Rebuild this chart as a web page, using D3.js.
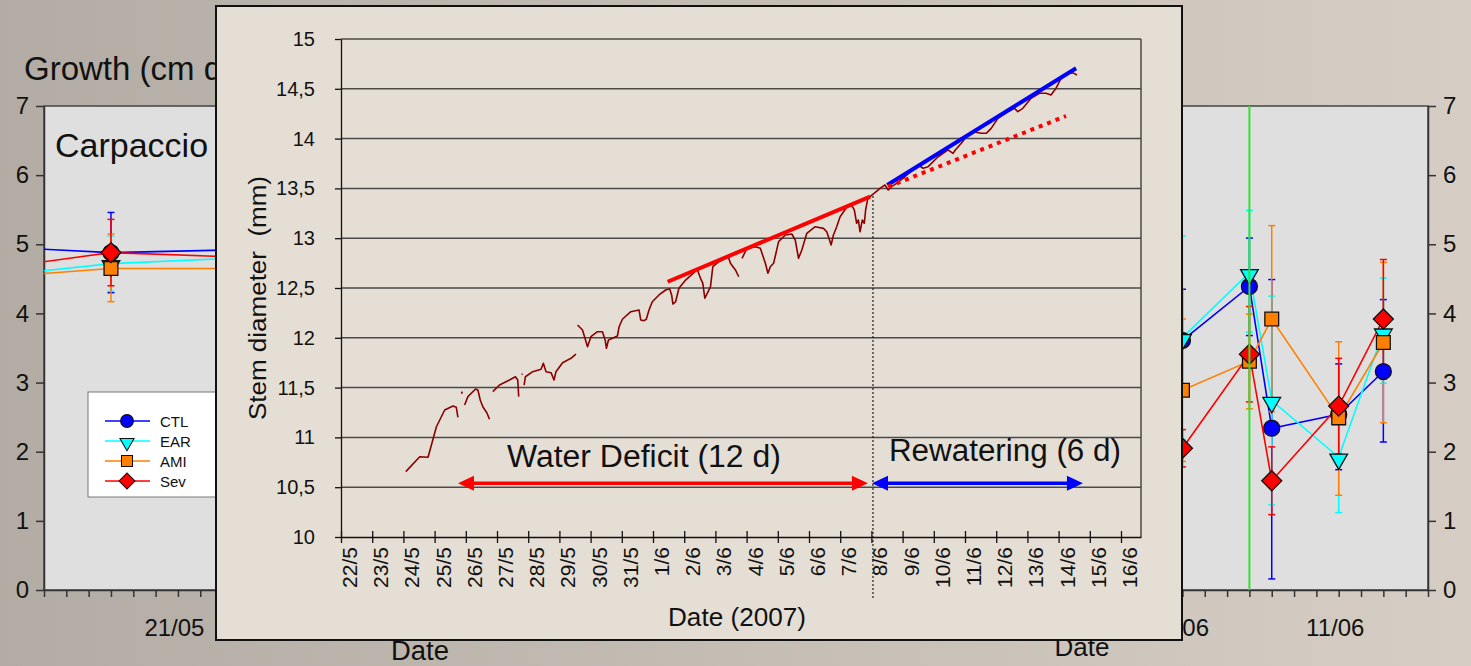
<!DOCTYPE html>
<html>
<head>
<meta charset="utf-8">
<script src="https://cdn.jsdelivr.net/npm/d3@7"></script>
<style>
  body { margin: 0; overflow: hidden; }
  text { font-family: "Liberation Sans", Arial, sans-serif; }
  .narrow { font-family: "Liberation Sans Narrow", "Arial Narrow", "Liberation Sans", sans-serif; }
</style>
</head>
<body>
<div id="chart"></div>
<script>

// ---- background chart: growth (cm/d), x = day index on the category axis ----
const growthIdx = [-2, 3, 10, 51, 54, 55, 58, 60];
const ctlVal = [4.96, 4.88, 4.93, 3.61, 4.39, 2.34, 2.54, 3.16];
const ctlHi = [null, 5.46, null, 4.35, 5.09, 4.49, 3.27, 4.20];
const ctlLo = [null, 4.30, null, 2.87, 3.68, 0.16, 1.74, 2.14];
const earVal = [4.55, 4.72, 4.82, 3.65, 4.59, 2.74, 1.92, 3.73];
const earHi = [null, 5.12, null, 5.12, 5.49, 4.25, 2.72, 4.51];
const earLo = [null, 4.32, null, 2.18, 3.73, 1.23, 1.12, 2.99];
const amiVal = [4.53, 4.65, 4.65, 2.89, 3.31, 3.92, 2.49, 3.58];
const amiHi = [null, 5.15, null, 3.92, 3.99, 5.27, 3.59, 4.74];
const amiLo = [null, 4.17, null, 1.86, 2.62, 2.58, 1.37, 2.42];
const sevVal = [4.66, 4.88, 4.80, 2.05, 3.41, 1.58, 2.66, 3.92];
const sevHi = [null, 5.36, null, 2.32, 4.10, 2.07, 3.35, 4.78];
const sevLo = [null, 4.40, null, 1.78, 2.72, 1.09, 1.97, 3.05];
const greenBar = { idx: 54, lo: 0, hi: 7 };
const growthTickLabels = { 6: "21/05", 51: "06/06", 58: "11/06" };

// ---- front chart: stem diameter (mm), x = days after 22/5 ----
const dateLabels = ["22/5", "23/5", "24/5", "25/5", "26/5", "27/5", "28/5", "29/5", "30/5", "31/5",
  "1/6", "2/6", "3/6", "4/6", "5/6", "6/6", "7/6", "8/6", "9/6", "10/6", "11/6", "12/6", "13/6", "14/6", "15/6", "16/6"];
const diamTicks = [10, 10.5, 11, 11.5, 12, 12.5, 13, 13.5, 14, 14.5, 15];

const stemDay = [
  2.077, 2.524, 2.789, 2.898, 3.058, 3.323, 3.588, 3.696, 3.748, null,
  3.862, 3.888, null,
  3.962, 4.067, 4.313, 4.387, 4.463, 4.546, 4.674, 4.760, null,
  4.866, 5.080, 5.399, 5.591, 5.665, 5.696, null,
  5.795, 5.815, null,
  5.869, 5.911, 6.144, 6.412, 6.486, 6.572, 6.732, 6.827, 6.891, 7.102, 7.371, 7.530, null,
  7.581, 7.741, 7.901, 8.010, 8.220, 8.380, 8.466, 8.508, 8.572, 8.700, 8.859, 8.914, 9.019, 9.288,
  9.553, 9.607, 9.712, 9.786, 9.872, 9.978, 10.192, 10.406, 10.534, 10.597, 10.639, 10.725, 10.831,
  11.045, 11.310, 11.415, 11.524, 11.597, 11.661, 11.767, 11.843, 11.917, 12.109, 12.323, 12.406,
  12.482, 12.642, 12.748, null,
  12.853, 13.013, 13.281, 13.441, 13.601, 13.684, 13.760, 13.866, 14.026, 14.240, 14.450, 14.559,
  14.665, 14.770, 14.930, 15.198, 15.463, 15.569, 15.709, 15.783, 15.888, 15.997, 16.208, 16.367,
  16.454, 16.527, 16.581, 16.636, 16.709, 16.773, 16.815, 16.879, 16.955, 17.115, 17.275, 17.435,
  17.540, 17.645, 17.805, 18.073, 18.498, 18.658, 18.818, 19.137, 19.457, 19.617, 19.690, 19.882,
  20.042, 20.256, 20.521, 20.681, 20.840, 21.054, 21.374, 21.588, 21.693, 21.853, 22.118, 22.386,
  22.597, 22.757, 22.917, 23.077, 23.291, 23.450, 23.588
];
const stemMM = [
  10.656, 10.806, 10.800, 10.924, 11.107, 11.275, 11.315, 11.302, 11.202, null,
  11.440, 11.460, null,
  11.325, 11.409, 11.486, 11.476, 11.376, 11.308, 11.248, 11.182, null,
  11.459, 11.526, 11.576, 11.609, 11.576, 11.409, null,
  11.630, 11.640, null,
  11.526, 11.609, 11.660, 11.684, 11.744, 11.660, 11.650, 11.576, 11.660, 11.750, 11.794, 11.837, null,
  12.129, 12.078, 11.911, 12.011, 12.061, 12.061, 11.978, 11.895, 11.978, 11.995, 12.018, 12.111, 12.186, 12.262,
  12.279, 12.179, 12.172, 12.186, 12.279, 12.362, 12.430, 12.480, 12.493, 12.430, 12.339, 12.362, 12.497,
  12.580, 12.654, 12.688, 12.597, 12.547, 12.397, 12.463, 12.513, 12.714, 12.764, 12.798, 12.821,
  12.748, 12.681, 12.613, null,
  12.798, 12.899, 12.915, 12.899, 12.748, 12.648, 12.714, 12.748, 12.965, 13.032, 13.042, 12.982,
  12.798, 12.882, 13.049, 13.115, 13.099, 13.065, 12.932, 13.032, 13.115, 13.216, 13.310, 13.333,
  13.283, 13.150, 13.183, 13.065, 13.183, 13.150, 13.283, 13.390, 13.417, 13.457, 13.501, 13.534,
  13.484, 13.517, 13.551, 13.617, 13.735, 13.702, 13.718, 13.818, 13.886, 13.852, 13.886, 13.953,
  14.019, 14.069, 14.053, 14.053, 14.103, 14.204, 14.270, 14.304, 14.270, 14.304, 14.405, 14.455,
  14.455, 14.438, 14.505, 14.605, 14.656, 14.662, 14.639
];

const deficitTrendDay = [10.47, 16.96], deficitTrendMM = [12.563, 13.417];
const rewaterTrendDay = [17.51, 23.56], rewaterTrendMM = [13.534, 14.706];
const expectedTrendDay = [17.54, 23.24], expectedTrendMM = [13.517, 14.227];
const rewaterDay = 17.05;
const deficitArrowDay = [3.75, 16.89], rewaterArrowDay = [17.02, 23.78], arrowMM = 10.54;

const W = 1471, H = 666;
const svg = d3.select("#chart").append("svg").attr("width", W).attr("height", H);
const defs = svg.append("defs");

const bg = defs.append("linearGradient").attr("id", "bg");
bg.append("stop").attr("offset", "0").attr("stop-color", "#b3aca4");
bg.append("stop").attr("offset", "1").attr("stop-color", "#d6cec4");
svg.append("rect").attr("width", W).attr("height", H).attr("fill", "url(#bg)");

// ================= background growth chart =================
const bm = { left: 44, right: 1428, top: 106, bottom: 590 };
const xb = d3.scaleLinear().domain([0, 62]).range([bm.left, bm.right]);
const yb = d3.scaleLinear().domain([0, 7]).range([bm.bottom, bm.top]);

defs.append("clipPath").attr("id", "backClip").append("rect")
  .attr("x", bm.left).attr("y", bm.top - 10)
  .attr("width", bm.right - bm.left).attr("height", bm.bottom - bm.top + 20);

svg.append("rect")
  .attr("x", bm.left).attr("y", bm.top)
  .attr("width", bm.right - bm.left).attr("height", bm.bottom - bm.top)
  .attr("fill", "#dfdfdf").attr("stroke", "#444").attr("stroke-width", 1.5);

svg.append("g")
  .attr("transform", `translate(${bm.left},0)`)
  .call(d3.axisLeft(yb).ticks(7).tickSize(8).tickSizeOuter(0).tickPadding(7))
  .call(g => g.selectAll("text").style("font-size", "24px").attr("fill", "#111"))
  .call(g => g.selectAll("line,path").attr("stroke", "#333").attr("stroke-width", 1.5));

svg.append("g")
  .attr("transform", `translate(${bm.right},0)`)
  .call(d3.axisRight(yb).ticks(7).tickSize(8).tickSizeOuter(0).tickPadding(7))
  .call(g => g.selectAll("text").style("font-size", "24px").attr("fill", "#111"))
  .call(g => g.selectAll("line,path").attr("stroke", "#333").attr("stroke-width", 1.5));

svg.append("g")
  .attr("transform", `translate(0,${bm.bottom})`)
  .call(d3.axisBottom(xb).tickValues(d3.range(0, 63)).tickSize(7).tickSizeOuter(0).tickPadding(22)
    .tickFormat(d => growthTickLabels[d] || ""))
  .call(g => g.selectAll("text").style("font-size", "24px").attr("fill", "#111").attr("dx", "-4"))
  .call(g => g.selectAll("line,path").attr("stroke", "#333").attr("stroke-width", 1.5));

svg.append("text").attr("x", 24).attr("y", 80).style("font-size", "33px").attr("fill", "#111")
  .text("Growth (cm d");
svg.append("text").attr("x", 55).attr("y", 157).style("font-size", "34px").attr("fill", "#111")
  .text("Carpaccio");

const series = [
  { name: "CTL", val: ctlVal, hi: ctlHi, lo: ctlLo, color: "#0000ff", sym: "circle" },
  { name: "EAR", val: earVal, hi: earHi, lo: earLo, color: "#00ffff", sym: "tri" },
  { name: "AMI", val: amiVal, hi: amiHi, lo: amiLo, color: "#ff8000", sym: "square" },
  { name: "Sev", val: sevVal, hi: sevHi, lo: sevLo, color: "#ff0000", sym: "diamond" }
];

function marker(sel, s) {
  if (s.sym === "circle") {
    sel.append("path").attr("d", d3.symbol(d3.symbolCircle, 200)());
  } else if (s.sym === "tri") {
    sel.append("path").attr("d", d3.symbol(d3.symbolTriangle, 135)()).attr("transform", "rotate(180) translate(0,-2)");
  } else if (s.sym === "square") {
    sel.append("path").attr("d", d3.symbol(d3.symbolSquare, 190)());
  } else {
    sel.append("path").attr("d", d3.symbol(d3.symbolSquare, 200)()).attr("transform", "rotate(45)");
  }
  sel.selectAll("path").attr("fill", s.color).attr("stroke", "#111").attr("stroke-width", 1.3);
}

const plotB = svg.append("g").attr("clip-path", "url(#backClip)");
const lineB = d3.line().x((d, i) => xb(growthIdx[i])).y(d => yb(d));

series.forEach(s => {
  plotB.append("path").datum(s.val).attr("d", lineB)
    .attr("fill", "none").attr("stroke", s.color).attr("stroke-width", 1.6);
});

series.forEach(s => {
  const eb = plotB.append("g").attr("stroke", s.color).attr("stroke-width", 1.5);
  growthIdx.forEach((ix, i) => {
    if (s.hi[i] == null) return;
    const x = xb(ix);
    eb.append("line").attr("x1", x).attr("x2", x).attr("y1", yb(s.hi[i])).attr("y2", yb(s.lo[i]));
    [s.hi[i], s.lo[i]].forEach(v => eb.append("line")
      .attr("x1", x - 3.5).attr("x2", x + 3.5).attr("y1", yb(v)).attr("y2", yb(v)));
  });
});

series.forEach(s => {
  growthIdx.forEach((ix, i) => {
    const m = plotB.append("g").attr("transform", `translate(${xb(ix)},${yb(s.val[i])})`);
    marker(m, s);
  });
});

plotB.append("line")
  .attr("x1", xb(greenBar.idx)).attr("x2", xb(greenBar.idx))
  .attr("y1", yb(greenBar.lo)).attr("y2", yb(greenBar.hi))
  .attr("stroke", "#33e033").attr("stroke-width", 2);

// legend
const leg = svg.append("g").attr("transform", "translate(88,392)");
leg.append("rect").attr("width", 140).attr("height", 105).attr("fill", "#fff").attr("stroke", "#777");
series.forEach((s, i) => {
  const row = leg.append("g").attr("transform", `translate(0,${29 + i * 20})`);
  row.append("line").attr("x1", 17).attr("x2", 62).attr("stroke", s.color).attr("stroke-width", 1.6);
  const m = row.append("g").attr("transform", "translate(39,0) scale(0.8)");
  marker(m, s);
  row.append("text").attr("x", 72).attr("y", 6).style("font-size", "15px").attr("fill", "#111").text(s.name);
});

svg.append("text").attr("class", "narrow").attr("x", 420).attr("y", 660).attr("text-anchor", "middle")
  .style("font-size", "27px").attr("fill", "#111")
  .attr("textLength", 58).attr("lengthAdjust", "spacingAndGlyphs").text("Date");
svg.append("text").attr("class", "narrow").attr("x", 1082).attr("y", 656).attr("text-anchor", "middle")
  .style("font-size", "26px").attr("fill", "#111")
  .attr("textLength", 55).attr("lengthAdjust", "spacingAndGlyphs").text("Date");

// ================= front stem diameter panel =================
svg.append("rect")
  .attr("x", 216).attr("y", 6).attr("width", 966).attr("height", 634)
  .attr("fill", "#e5ded4").attr("stroke", "#111").attr("stroke-width", 2);

const fm = { left: 341, right: 1141, top: 39, bottom: 537 };
const xf = d3.scaleLinear().domain([0, 800 / 31.2]).range([fm.left, fm.right]);
const yf = d3.scaleLinear().domain([10, 15]).range([fm.bottom, fm.top]);

svg.append("g")
  .selectAll("line")
  .data(diamTicks.slice(1))
  .join("line")
  .attr("x1", fm.left).attr("x2", fm.right)
  .attr("y1", d => yf(d)).attr("y2", d => yf(d))
  .attr("stroke", "#4a4a4a").attr("stroke-width", 1.5);

svg.append("line")
  .attr("x1", fm.right).attr("x2", fm.right).attr("y1", fm.top).attr("y2", fm.bottom)
  .attr("stroke", "#4a4a4a").attr("stroke-width", 1.5);

svg.append("g")
  .attr("transform", `translate(${fm.left},0)`)
  .call(d3.axisLeft(yf).tickValues(diamTicks).tickSize(6).tickSizeOuter(0).tickPadding(20)
    .tickFormat(d => String(d).replace(".", ",")))
  .call(g => g.selectAll("text").style("font-size", "20px").attr("fill", "#111"))
  .call(g => g.selectAll("line,path").attr("stroke", "#111").attr("stroke-width", 1.3));

svg.append("g")
  .attr("transform", `translate(0,${fm.bottom})`)
  .call(d3.axisBottom(xf).tickValues(d3.range(0, 26)).tickSize(6).tickSizeOuter(0).tickFormat(""))
  .call(g => g.selectAll(".tick line").attr("y1", -6))
  .call(g => g.selectAll("line,path").attr("stroke", "#111").attr("stroke-width", 1.3));

svg.append("g")
  .selectAll("text")
  .data(dateLabels)
  .join("text")
  .attr("transform", (d, i) => `translate(${xf(i) + 16},${fm.bottom + 10}) rotate(-90)`)
  .attr("text-anchor", "end")
  .style("font-size", "21px").attr("fill", "#111")
  .text(d => d);

svg.append("text")
  .attr("transform", `translate(266,${(fm.top + fm.bottom) / 2 + 10}) rotate(-90)`)
  .attr("text-anchor", "middle").style("font-size", "23px").attr("fill", "#111")
  .attr("textLength", 244).attr("lengthAdjust", "spacingAndGlyphs").attr("xml:space", "preserve")
  .text("Stem diameter  (mm)");

svg.append("text").attr("class", "narrow")
  .attr("x", (fm.left + fm.right) / 2 - 4).attr("y", 626)
  .attr("text-anchor", "middle").style("font-size", "26px").attr("fill", "#111")
  .attr("textLength", 138).attr("lengthAdjust", "spacingAndGlyphs").text("Date (2007)");

// stem trace
const stemLine = d3.line()
  .defined((d, i) => d != null && stemMM[i] != null)
  .x(d => xf(d))
  .y((d, i) => yf(stemMM[i]));

svg.append("path").datum(stemDay).attr("d", stemLine)
  .attr("fill", "none").attr("stroke", "#8b0000").attr("stroke-width", 1.6).attr("stroke-linejoin", "round");

// rewatering marker
svg.append("line")
  .attr("x1", xf(rewaterDay)).attr("x2", xf(rewaterDay))
  .attr("y1", yf(13.42)).attr("y2", yf(9.37))
  .attr("stroke", "#111").attr("stroke-width", 1.5).attr("stroke-dasharray", "1.5,2.5");

// trend lines
const trend = (days, mms) => d3.line().x(d => xf(d[0])).y(d => yf(d[1]))(days.map((d, i) => [d, mms[i]]));
svg.append("path").attr("d", trend(deficitTrendDay, deficitTrendMM))
  .attr("stroke", "#ff0000").attr("stroke-width", 4);
svg.append("path").attr("d", trend(rewaterTrendDay, rewaterTrendMM))
  .attr("stroke", "#0000ff").attr("stroke-width", 4);
svg.append("path").attr("d", trend(expectedTrendDay, expectedTrendMM))
  .attr("stroke", "#ff0000").attr("stroke-width", 4).attr("stroke-dasharray", "4,5");

// phase arrows
function arrow(days, color) {
  const y = yf(arrowMM), x0 = xf(days[0]), x1 = xf(days[1]);
  const g = svg.append("g");
  g.append("line").attr("x1", x0 + 10).attr("x2", x1 - 10).attr("y1", y).attr("y2", y)
    .attr("stroke", color).attr("stroke-width", 3.5);
  g.append("path").attr("d", `M${x0},${y} L${x0 + 16},${y - 7.5} L${x0 + 16},${y + 7.5} Z`).attr("fill", color);
  g.append("path").attr("d", `M${x1},${y} L${x1 - 16},${y - 7.5} L${x1 - 16},${y + 7.5} Z`).attr("fill", color);
}
arrow(deficitArrowDay, "#ff0000");
arrow(rewaterArrowDay, "#0000ff");

svg.append("text").attr("class", "narrow")
  .attr("x", xf(9.71)).attr("y", yf(10.70)).attr("text-anchor", "middle")
  .style("font-size", "31px").attr("fill", "#111")
  .attr("textLength", 274).attr("lengthAdjust", "spacingAndGlyphs")
  .text("Water Deficit (12 d)");
svg.append("text").attr("class", "narrow")
  .attr("x", xf(21.28)).attr("y", yf(10.76)).attr("text-anchor", "middle")
  .style("font-size", "31px").attr("fill", "#111")
  .attr("textLength", 232).attr("lengthAdjust", "spacingAndGlyphs")
  .text("Rewatering (6 d)");

</script>
</body>
</html>
